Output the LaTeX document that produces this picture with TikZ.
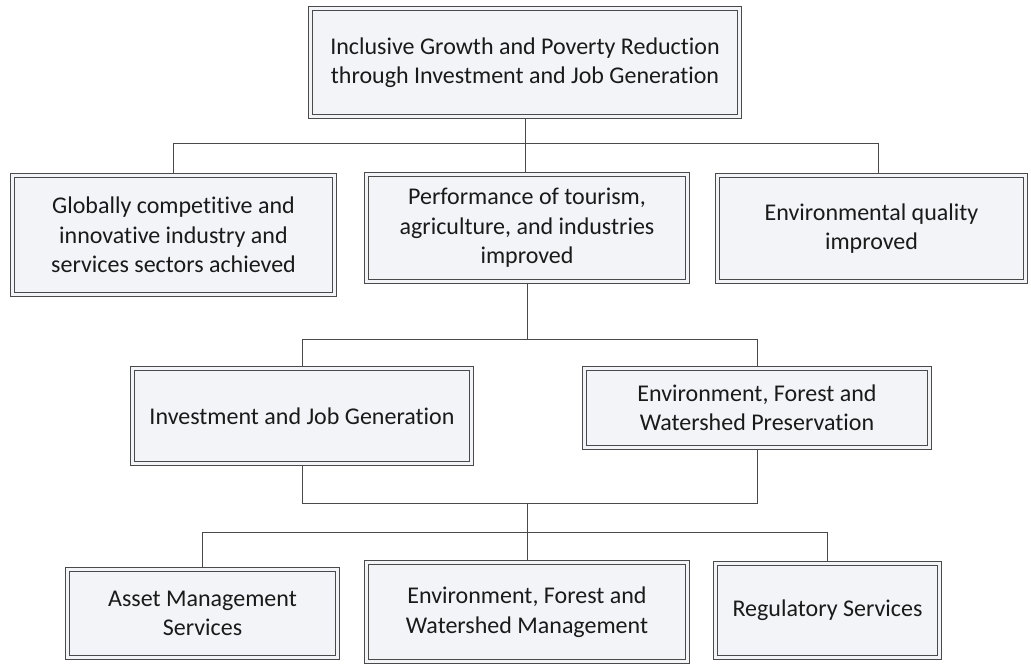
\documentclass[tikz,border=0pt]{standalone}
\usepackage{fontspec}
\setmainfont{Carlito}[Ligatures=NoCommon]
\definecolor{linec}{HTML}{4A4A4A}
\definecolor{boxfill}{HTML}{F2F4F8}
\definecolor{txt}{HTML}{1A1A1A}
\begin{document}
\begin{tikzpicture}[x=1pt,y=-1pt,
  box/.style={draw=linec, line width=0.9pt, double=boxfill, double distance=2.8pt,
    fill=boxfill, align=center, inner sep=0pt, outer sep=2.3pt,
    font=\fontsize{24}{29.5}\selectfont, text=txt},
  conn/.style={draw=linec, line width=1pt}]
\fill[white] (0,0) rectangle (1031,666);
\useasboundingbox (0,0) rectangle (1031,666);

\node[box, minimum width=429.4pt, minimum height=108.4pt] (top) at (525,62.5)
  {Inclusive Growth and Poverty Reduction\\through Investment and Job Generation};
\node[box, minimum width=322.4pt, minimum height=119.4pt] (b1) at (173.5,235)
  {Globally competitive and\\innovative industry and\\services sectors achieved};
\node[box, minimum width=321.4pt, minimum height=107.4pt] (b2) at (527,228)
  {Performance of tourism,\\agriculture, and industries\\improved};
\node[box, minimum width=308.4pt, minimum height=106.4pt] (b3) at (871.5,228.5)
  {Environmental quality\\improved};
\node[box, minimum width=339.4pt, minimum height=95.4pt] (inv) at (302,416)
  {Investment and Job Generation};
\node[box, minimum width=345.4pt, minimum height=79.4pt] (env) at (757,408)
  {Environment, Forest and\\Watershed Preservation};
\node[box, minimum width=270.4pt, minimum height=88.4pt] (asset) at (202.5,613.5)
  {Asset Management\\Services};
\node[box, minimum width=321.4pt, minimum height=99.4pt] (mgmt) at (527,612)
  {Environment, Forest and\\Watershed Management};
\node[box, minimum width=224.4pt, minimum height=94.4pt] (reg) at (827.5,610.5)
  {Regulatory Services};

\coordinate (j1) at (525,144);
\coordinate (j2) at (526,339);
\coordinate (j3) at (528,503);
\coordinate (j4) at (528,532);

\draw[conn] (top.south) -- (top.south |- b2.north);
\draw[conn] (b1.north) -- (b1.north |- j1) -- ([xshift=6.5pt]b3.north |- j1) -- ([xshift=6.5pt]b3.north);
\draw[conn] (b2.south) -- (b2.south |- j2);
\draw[conn] (inv.north) -- (inv.north |- j2) -- (env.north |- j2) -- (env.north);
\draw[conn] (inv.south) -- (inv.south |- j3) -- (env.south |- j3) -- (env.south);
\draw[conn] (mgmt.north |- j3) -- (mgmt.north);
\draw[conn] (asset.north) -- (asset.north |- j4) -- (reg.north |- j4) -- (reg.north);
\end{tikzpicture}
\end{document}
